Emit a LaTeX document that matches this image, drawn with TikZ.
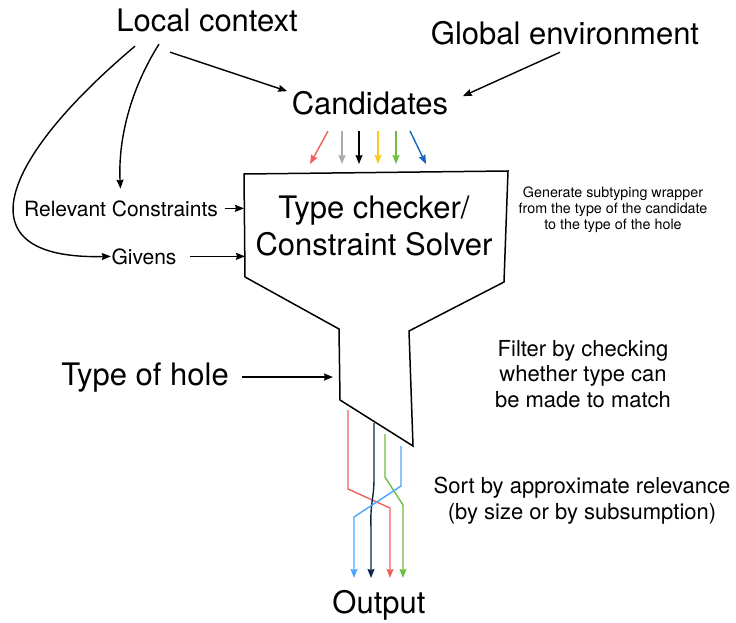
\documentclass[tikz,border=0pt]{standalone}
\usepackage{fontspec}
\setmainfont{TeX Gyre Heros}
\usetikzlibrary{arrows.meta}
\definecolor{wred}{HTML}{F0605A}
\definecolor{wgray}{HTML}{AAAAAA}
\definecolor{wyellow}{HTML}{F5CC1F}
\definecolor{wgreen}{HTML}{6CBF3F}
\definecolor{wblue}{HTML}{1565C0}
\definecolor{wnavy}{HTML}{0E2747}
\definecolor{wsky}{HTML}{4DA6FF}
\tikzset{
  big/.style={font=\fontsize{31}{37}\selectfont, anchor=base, inner sep=0pt, align=center},
  mid/.style={font=\fontsize{21}{25}\selectfont, anchor=base, inner sep=0pt},
  note/.style={font=\fontsize{22}{25.5}\selectfont, anchor=base, inner sep=0pt, align=center},
  tiny/.style={font=\fontsize{14.3}{16}\selectfont, anchor=base, inner sep=0pt, align=center},
  wire/.style={->, line width=1.4pt}
}
\begin{document}
\begin{tikzpicture}[x=1pt, y=-1pt, >={Stealth[length=9pt,width=7pt,inset=1pt]}, line width=1.4pt]
\useasboundingbox (0,0) rectangle (736,623);
% texts (anchor base = baseline of the last line)
\node[big] (lc) at (207,32) {Local context};
\node[big] (ge) at (565,45) {Global environment};
\node[big] (cand) at (370,115) {Candidates};
\node[big] (solver) at (374,255) {Type checker/\\Constraint Solver};
\node[mid] (rc) at (121,216) {Relevant Constraints};
\node[mid] (giv) at (144,264) {Givens};
\node[big] (hole) at (145,385) {Type of hole};
\node[big] (out) at (379,613) {Output};
\node[tiny] (gen) at (613,229) {Generate subtyping wrapper\\from the type of the candidate\\to the type of the hole};
\node[note] (filter) at (583,407) {Filter by checking\\whether type can\\be made to match};
\node[note] (sort) at (582,519) {Sort by approximate relevance\\(by size or by subsumption)};

% funnel
\coordinate (f1) at (244,174);
\coordinate (f2) at (508,171);
\coordinate (f3) at (504,282);
\coordinate (f4) at (409,331);
\coordinate (f5) at (413,446);
\coordinate (f6) at (340,400);
\coordinate (f7) at (339,329);
\coordinate (f8) at (245,277);
\draw[line width=1.5pt, line join=miter] (f1)--(f2)--(f3)--(f4)--(f5)--(f6)--(f7)--(f8)--cycle;

% inputs
\draw[->] (lc.south)++(-72,13) .. controls (0,160) and (-40,260) .. (giv.west);
\draw[->, shorten >=11pt] (lc.south)++(-48,11) .. controls (130,90) and (118,140) .. (rc.north);
\draw[->] (lc.south)++(-37,19) -- ([xshift=-4pt]cand.north west);
\draw[->] (ge.south)++(-5,6) -- ([xshift=14pt,yshift=-5pt]cand.north east);
\draw[->] ([xshift=6pt]rc.east) -- (rc.east -| f1);
\draw[->] ([xshift=13pt]giv.east) -- (giv.east -| f8);
\draw[->, shorten >=6pt] ([xshift=13pt]hole.east) -- (hole.east -| f7);

% candidates
\foreach \col/\xa/\xb in {wred/328/310, wgray/342/342, black/359/359, wyellow/378/378, wgreen/396/396, wblue/410/426}
{
    \draw[wire, \col] (\xa,131) -- (\xb,164);
}

% sorted output
\draw[wire, wred] (348,410) -- (348,489) -- (390,508) -- (390,578);
\draw[wire, wnavy] (374,423) -- (374,478) .. controls (374,500) and (370,502) .. (371,528) -- (371,578);
\draw[wire, wgreen] (385,434) -- (385,477) -- (403,505) -- (403,578);
\draw[wire, wsky] (401,446) -- (401,486) -- (354,517) -- (354,578);

\end{tikzpicture}
\end{document}
